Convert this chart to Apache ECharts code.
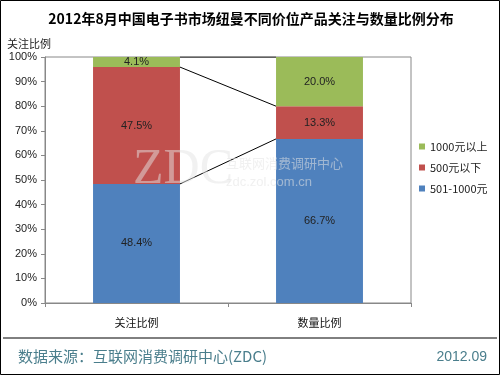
<!DOCTYPE html>
<html><head><meta charset="utf-8">
<script src="https://cdn.jsdelivr.net/npm/echarts@6/dist/echarts.min.js"></script>
<style>html,body{margin:0;padding:0;background:#fff}#c{width:500px;height:375px;}</style>
</head><body><div id="c"></div>
<script>
var categories = ['关注比例', '数量比例'];
var seriesNames = ['501-1000元', '500元以下', '1000元以上'];
var v501_1000 = [48.4, 66.7];
var vBelow500 = [47.5, 13.3];
var vAbove1000 = [4.1, 20.0];
var yTicks = [0, 10, 20, 30, 40, 50, 60, 70, 80, 90, 100];
var colors = ['#4F81BD', '#C0504D', '#9BBB59'];

var values = [v501_1000, vBelow500, vAbove1000];
var barFrac = 0.475;
var cum = [[], []];
for (var c = 0; c < 2; c++) { var s = 0; for (var i = 0; i < 3; i++) { s += values[i][c]; cum[c].push(Math.round(s * 10) / 10); } }
var xr = 0.5 + barFrac / 2, xl = 1.5 - barFrac / 2;
var connectors = [];
for (var i = 0; i < 3; i++) {
  connectors.push({type: 'line', xAxisIndex: 1, yAxisIndex: 0, data: [[xr, cum[0][i]], [xl, cum[1][i]]],
    symbol: 'none', silent: true, lineStyle: {color: '#000', width: 1}, z: 5, animation: false});
}

var chart = echarts.init(document.getElementById('c'), null, {renderer: 'canvas'});
var barSeries = seriesNames.map(function (n, i) {
  return {name: n, type: 'bar', stack: 'a', barWidth: '47.5%', data: values[i], itemStyle: {color: colors[i]},
    label: {show: true, position: 'inside', color: '#222', fontSize: 11, fontFamily: 'Liberation Sans, Noto Sans CJK SC',
      formatter: function (p) { return p.value.toFixed(1) + '%'; }}, animation: false};
});
chart.setOption({
  backgroundColor: '#fff',
  animation: false,
  title: {text: '2012年8月中国电子书市场纽曼不同价位产品关注与数量比例分布', left: 246, top: 7, textAlign: 'center',
    textStyle: {fontSize: 14, fontWeight: 'bold', color: '#000', fontFamily: 'Noto Sans CJK SC'}},
  legend: {orient: 'vertical', left: 414, top: 136, itemWidth: 6, itemHeight: 6, itemGap: 10,
    data: ['1000元以上', '500元以下', '501-1000元'], icon: 'rect',
    textStyle: {fontSize: 11, color: '#222', fontFamily: 'Noto Sans CJK SC'}},
  grid: {left: 45, right: 89, top: 57, bottom: 72, show: true, borderColor: '#888', borderWidth: 1},
  xAxis: [{type: 'category', data: categories, axisLine: {lineStyle: {color: '#888'}},
    axisTick: {show: true, alignWithLabel: false, length: 4, lineStyle: {color: '#888'}, inside: false},
    axisLabel: {color: '#111', fontSize: 11, margin: 14, fontFamily: 'Noto Sans CJK SC'}},
    {type: 'value', min: 0, max: 2, show: false}],
  yAxis: {type: 'value', min: 0, max: 100, interval: 10, name: '关注比例', nameLocation: 'end',
    nameTextStyle: {fontSize: 11, color: '#222', align: 'left', padding: [0, 0, 0, -38], fontFamily: 'Noto Sans CJK SC'},
    nameGap: 8,
    axisLine: {show: true, lineStyle: {color: '#888'}}, axisTick: {show: true, length: 4, lineStyle: {color: '#888'}},
    splitLine: {show: false},
    axisLabel: {formatter: '{value}%', color: '#222', fontSize: 11, margin: 8, fontFamily: 'Liberation Sans'}},
  graphic: [
    {type: 'text', left: 133, top: 145, z: 100, style: {text: 'ZDC', fontSize: 50, fontFamily: 'Liberation Serif', fill: 'rgba(228,228,228,0.5)'}},
    {type: 'text', left: 226, top: 157, z: 100, style: {text: '互联网消费调研中心', fontSize: 13, fontFamily: 'Noto Sans CJK SC', fill: 'rgba(228,228,228,0.55)'}},
    {type: 'text', left: 226, top: 176, z: 100, style: {text: 'zdc.zol.com.cn', fontSize: 13, fontFamily: 'Liberation Sans', fill: 'rgba(228,228,228,0.55)'}},
    {type: 'line', shape: {x1: 3, y1: 338, x2: 497, y2: 338}, style: {stroke: '#000', lineWidth: 1}},
    {type: 'text', left: 18, top: 349, style: {text: '数据来源：互联网消费调研中心(ZDC)', fontSize: 15, fill: '#4a7e8c', fontFamily: 'Noto Sans CJK SC'}},
    {type: 'text', right: 13, top: 350, style: {text: '2012.09', fontSize: 14, fill: '#4a7e8c', fontFamily: 'Liberation Sans'}},
    {type: 'rect', shape: {x: 0.5, y: 0.5, width: 499, height: 374}, style: {fill: 'none', stroke: '#000', lineWidth: 1}}
  ],
  series: barSeries.concat(connectors)
});
</script></body></html>
